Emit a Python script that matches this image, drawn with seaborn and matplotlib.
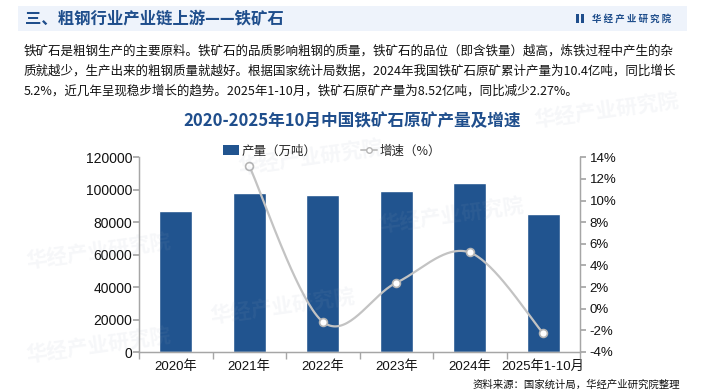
import numpy as np
import pandas as pd
import seaborn as sns
import matplotlib.pyplot as plt
from matplotlib.patches import Rectangle
from matplotlib.lines import Line2D
from matplotlib.ticker import FuncFormatter, FixedLocator

# datos del gráfico
categorias = ["2020年", "2021年", "2022年", "2023年", "2024年", "2025年1-10月"]
produccion = [86700, 98050, 96800, 99100, 104300, 85200]   # 万吨
crecimiento = [np.nan, 13.2, -1.2, 2.4, 5.2, -2.27]          # %

titulo_seccion = "三、粗钢行业产业链上游——铁矿石"
titulo_grafico = "2020-2025年10月中国铁矿石原矿产量及增速"
parrafo = [
    "铁矿石是粗钢生产的主要原料。铁矿石的品质影响粗钢的质量，铁矿石的品位（即含铁量）越高，炼铁过程中产生的杂",
    "质就越少，生产出来的粗钢质量就越好。根据国家统计局数据，2024年我国铁矿石原矿累计产量为10.4亿吨，同比增长",
    "5.2%，近几年呈现稳步增长的趋势。2025年1-10月，铁矿石原矿产量为8.52亿吨，同比减少2.27%。",
]
fuente = "资料来源：国家统计局，华经产业研究院整理"

AZUL = "#21548f"
AZUL_TIT = "#1f4e8c"
GRIS = "#c3c3c3"

sns.set_theme(style="white")
plt.rcParams['font.family'] = ['Liberation Sans', 'Noto Sans CJK SC', 'DejaVu Sans']
CJK = ['Noto Sans CJK SC', 'DejaVu Sans']


def curva_suave(x, y, n=40):
    # curva tipo Catmull-Rom (como el suavizado de Excel)
    x = np.asarray(x, float)
    y = np.asarray(y, float)
    px = np.concatenate([[x[0]], x, [x[-1]]])
    py = np.concatenate([[y[0]], y, [y[-1]]])
    xs, ys = [], []
    t = np.linspace(0, 1, n)
    for i in range(1, len(px) - 2):
        p0 = np.array([px[i], py[i]])
        p3 = np.array([px[i + 1], py[i + 1]])
        c1 = p0 + (p3 - np.array([px[i - 1], py[i - 1]])) / 6
        c2 = p3 - (np.array([px[i + 2], py[i + 2]]) - p0) / 6
        b = ((1 - t) ** 3)[:, None] * p0 + (3 * (1 - t) ** 2 * t)[:, None] * c1 \
            + (3 * (1 - t) * t ** 2)[:, None] * c2 + (t ** 3)[:, None] * p3
        xs.extend(b[:, 0])
        ys.extend(b[:, 1])
    return np.array(xs), np.array(ys)


fig = plt.figure(figsize=(7.05, 3.92), dpi=100)
fig.patch.set_facecolor("white")

# marcas de agua
for (wx, wy) in [(0.14, 0.36), (0.44, 0.60), (0.40, 0.22), (0.64, 0.45), (0.14, 0.12), (0.86, 0.72)]:
    fig.text(wx, wy, "华经产业研究院", family=CJK, fontsize=15, fontweight="bold",
             color="#9aa8bd", alpha=0.09, rotation=8, ha="center", va="center")

# banda del encabezado
fig.patches.append(Rectangle((18 / 705, 1 - 31 / 392), 669 / 705, 25 / 392,
                             transform=fig.transFigure, facecolor="#eef3fb",
                             edgecolor="none", zorder=0))
fig.text(25 / 705, 1 - 19 / 392, titulo_seccion, family=CJK, fontsize=11.8,
         fontweight="bold", color=AZUL_TIT, va="center")
fig.patches.append(Rectangle((576 / 705, 1 - 23 / 392), 2.5 / 705, 9 / 392,
                             transform=fig.transFigure, facecolor=AZUL_TIT, edgecolor="none"))
fig.patches.append(Rectangle((581 / 705, 1 - 23 / 392), 2.5 / 705, 9 / 392,
                             transform=fig.transFigure, facecolor=AZUL_TIT, edgecolor="none"))
fig.text(592 / 705, 1 - 18.5 / 392, "华 经 产 业 研 究 院", family=CJK, fontsize=6.8,
         fontweight="bold", color=AZUL_TIT, va="center")

# párrafo
for i, linea in enumerate(parrafo):
    fig.text(24 / 705, 1 - (51 + i * 20) / 392, linea, family=CJK, fontsize=9,
             color="#111111", va="center")

fig.text(352 / 705, 1 - 121 / 392, titulo_grafico, family=CJK, fontsize=12,
         fontweight="bold", color=AZUL_TIT, ha="center", va="center")

# ejes
ax = fig.add_axes([139 / 705, 1 - 352 / 392, 441 / 705, 194.7 / 392])
df = pd.DataFrame({"categoria": categorias, "produccion": produccion})
sns.barplot(data=df, x="categoria", y="produccion", color=AZUL, saturation=1,
            width=0.45, ax=ax)
ax.set_ylim(0, 120000)
ax.set_xlim(-0.5, len(categorias) - 0.5)
ax.set_yticks(np.arange(0, 120001, 20000))
ax.set_xlabel("")
ax.set_ylabel("")
ax.patch.set_alpha(0)

ax2 = ax.twinx()
idx = np.arange(len(categorias))
mask = ~np.isnan(crecimiento)
xs, ys = curva_suave(idx[mask], np.array(crecimiento)[mask])
ax2.plot(xs, ys, color=GRIS, lw=1.6, zorder=3)
sns.scatterplot(x=idx[mask], y=np.array(crecimiento)[mask], ax=ax2, s=32,
                color="white", edgecolor="#b5b5b5", linewidth=1.2, zorder=4, legend=False)
ax2.set_ylim(-4, 14)
ax2.set_yticks(np.arange(-4, 15, 2))
ax2.yaxis.set_major_formatter(FuncFormatter(lambda v, p: f"{v:.0f}%"))
ax2.set_xlim(-0.5, len(categorias) - 0.5)

for a in (ax, ax2):
    for s in a.spines.values():
        s.set_color("#a6a6a6")
        s.set_linewidth(0.9)
    a.spines["top"].set_visible(False)
    a.grid(False)

ax.tick_params(axis="y", which="major", length=4, color="#a6a6a6", pad=1,
               labelsize=10, labelcolor="#111111", left=True)
ax2.tick_params(axis="y", which="major", length=4, color="#a6a6a6", pad=3,
                labelsize=9.5, labelcolor="#111111", right=True)
ax.tick_params(axis="x", which="major", length=0, pad=6, labelsize=9.5,
               labelcolor="#111111")
ax.xaxis.set_minor_locator(FixedLocator(np.arange(-0.5, len(categorias), 1.0)))
ax.tick_params(axis="x", which="minor", length=5, color="#a6a6a6", bottom=True)
for lbl in ax.get_xticklabels():
    lbl.set_fontfamily(['Liberation Sans', 'Noto Sans CJK SC'])

# leyenda
handles = [
    Rectangle((0, 0), 1, 1, facecolor=AZUL, edgecolor="none"),
    Line2D([0], [0], color=GRIS, lw=1.4, marker="o", markersize=4,
           markerfacecolor="white", markeredgecolor="#b5b5b5"),
]
fig.legend(handles, ["产量（万吨）", "增速（%）"], loc="center",
           bbox_to_anchor=(332 / 705, 1 - 151 / 392), ncol=2, frameon=False,
           prop={"family": CJK, "size": 9}, handlelength=1.3, handleheight=0.9,
           columnspacing=3.5, handletextpad=0.2)

fig.text(680 / 705, 1 - 385 / 392, fuente, family=CJK, fontsize=7.5,
         color="#111111", ha="right", va="center")

fig.savefig("out.png", dpi=100)
